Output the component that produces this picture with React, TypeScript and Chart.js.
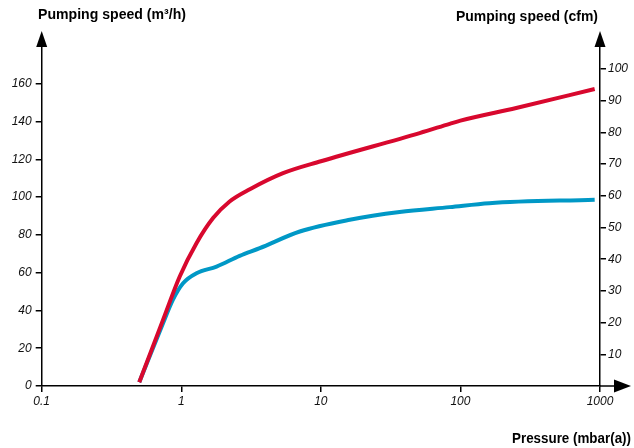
import React, { useEffect, useRef } from "react";
import { Chart, registerables } from "chart.js";

Chart.register(...registerables);

// Pressure (mbar(a)) and pumping speed (m³/h)
const redPressure = [0.5, 0.74, 0.975, 1.285, 1.69, 2.22, 3.1, 5.36, 10, 51, 83.8, 100, 251, 916];
const redSpeed = [2, 35, 58, 75.6, 88.9, 97.7, 104.2, 112.7, 119, 133.9, 138.8, 140.5, 147.2, 157.2];

const bluePressure = [0.5, 0.74, 0.87, 1.03, 1.285, 1.79, 2.62, 3.65, 7.07, 16.1, 36.7, 83.8, 161, 916];
const blueSpeed = [2, 33.2, 45.6, 54.4, 59.7, 63.2, 68.9, 73, 81.8, 88, 92.1, 94.7, 96.8, 98.6];

const xTicks = [0.1, 1, 10, 100, 1000];
const leftTicks = [0, 20, 40, 60, 80, 100, 120, 140, 160];
const rightTicks = [10, 20, 30, 40, 50, 60, 70, 80, 90, 100];

const leftTitle = "Pumping speed (m³/h)";
const rightTitle = "Pumping speed (cfm)";
const bottomTitle = "Pressure (mbar(a))";

const RED = "#d8082e";
const BLUE = "#0098c6";
const TICK_FONT = { family: "'Liberation Sans', Arial, sans-serif", size: 12, style: "italic" as const };
const TITLE_FONT = "bold 15px 'Liberation Sans', Arial, sans-serif";

function condensedText(ctx: any, text: string, x: number, y: number, width: number, align: "left" | "right") {
  const w = ctx.measureText(text).width;
  const k = Math.min(1, width / w);
  ctx.save();
  ctx.translate(x, y);
  ctx.scale(k, 1);
  ctx.textAlign = align;
  ctx.fillText(text, 0, 0);
  ctx.restore();
}

const decorPlugin = {
  id: "decor",
  afterDraw(chart: any) {
    const { ctx, chartArea } = chart;
    const { left, right, top, bottom } = chartArea;
    ctx.save();
    ctx.fillStyle = "#000";
    ctx.strokeStyle = "#000";
    ctx.lineWidth = 1.5;
    ctx.beginPath();
    ctx.moveTo(right, bottom);
    ctx.lineTo(616, bottom);
    ctx.stroke();
    const tri = (pts: number[][]) => {
      ctx.beginPath();
      ctx.moveTo(pts[0][0], pts[0][1]);
      ctx.lineTo(pts[1][0], pts[1][1]);
      ctx.lineTo(pts[2][0], pts[2][1]);
      ctx.closePath();
      ctx.fill();
    };
    tri([[left, top - 15], [left - 5.5, top + 1], [left + 5.5, top + 1]]);
    tri([[right, top - 15], [right - 5.5, top + 1], [right + 5.5, top + 1]]);
    tri([[631, bottom], [614, bottom - 6.5], [614, bottom + 6.5]]);
    ctx.font = TITLE_FONT;
    ctx.textBaseline = "middle";
    condensedText(ctx, leftTitle, 38, 15, 148, "left");
    condensedText(ctx, rightTitle, 598, 17, 142, "right");
    condensedText(ctx, bottomTitle, 631, 439, 119, "right");
    ctx.restore();
  },
};

export default function App() {
  const ref = useRef<HTMLCanvasElement | null>(null);
  useEffect(() => {
    document.body.style.margin = "0";
    if (!ref.current) return;
    const leftMax = 180;
    const pxPerLeft = 1.887;
    const pxPerRight = 3.167;
    const rightMax = (leftMax * pxPerLeft) / pxPerRight;
    const chart = new Chart(ref.current, {
      type: "line",
      data: {
        datasets: [
          {
            data: redPressure.map((x, i) => ({ x, y: redSpeed[i] })),
            borderColor: RED,
            borderWidth: 4,
            pointRadius: 0,
            cubicInterpolationMode: "monotone",
            yAxisID: "y",
          },
          {
            data: bluePressure.map((x, i) => ({ x, y: blueSpeed[i] })),
            borderColor: BLUE,
            borderWidth: 4,
            pointRadius: 0,
            cubicInterpolationMode: "monotone",
            yAxisID: "y",
          },
        ],
      },
      plugins: [decorPlugin],
      options: {
        animation: false,
        responsive: false,
        devicePixelRatio: 1,
        layout: { padding: { left: 0, right: 0, top: 46, bottom: 0 } },
        plugins: { legend: { display: false }, tooltip: { enabled: false } },
        scales: {
          x: {
            type: "logarithmic",
            min: 0.1,
            max: 1000,
            afterBuildTicks: (s: any) => {
              s.ticks = xTicks.map((v) => ({ value: v }));
            },
            afterFit: (s: any) => {
              s.height = 62;
            },
            ticks: {
              color: "#111",
              font: TICK_FONT,
              padding: 2,
              maxRotation: 0,
              autoSkip: false,
              callback: (v: any) => String(v),
            },
            grid: { drawOnChartArea: false, tickLength: 6, color: "#000", lineWidth: 1.5 },
            border: { color: "#000", width: 1.5 },
          },
          y: {
            type: "linear",
            position: "left",
            min: 0,
            max: leftMax,
            afterBuildTicks: (s: any) => {
              s.ticks = leftTicks.map((v) => ({ value: v }));
            },
            afterFit: (s: any) => {
              s.width = 41.7;
            },
            ticks: { color: "#111", font: TICK_FONT, padding: 4, autoSkip: false },
            grid: { drawOnChartArea: false, tickLength: 6, color: "#000", lineWidth: 1.5 },
            border: { color: "#000", width: 1.5 },
          },
          y2: {
            type: "linear",
            position: "right",
            min: 0,
            max: rightMax,
            afterBuildTicks: (s: any) => {
              s.ticks = rightTicks.map((v) => ({ value: v }));
            },
            afterFit: (s: any) => {
              s.width = 34;
            },
            ticks: { color: "#111", font: TICK_FONT, padding: 2, autoSkip: false },
            grid: { drawOnChartArea: false, tickLength: 6, color: "#000", lineWidth: 1.5 },
            border: { color: "#000", width: 1.5 },
          },
        },
      },
    } as any);
    return () => chart.destroy();
  }, []);
  return (
    <div style={{ width: 634, height: 448 }}>
      <canvas ref={ref} width={634} height={448} style={{ display: "block", width: 634, height: 448 }} />
    </div>
  );
}
